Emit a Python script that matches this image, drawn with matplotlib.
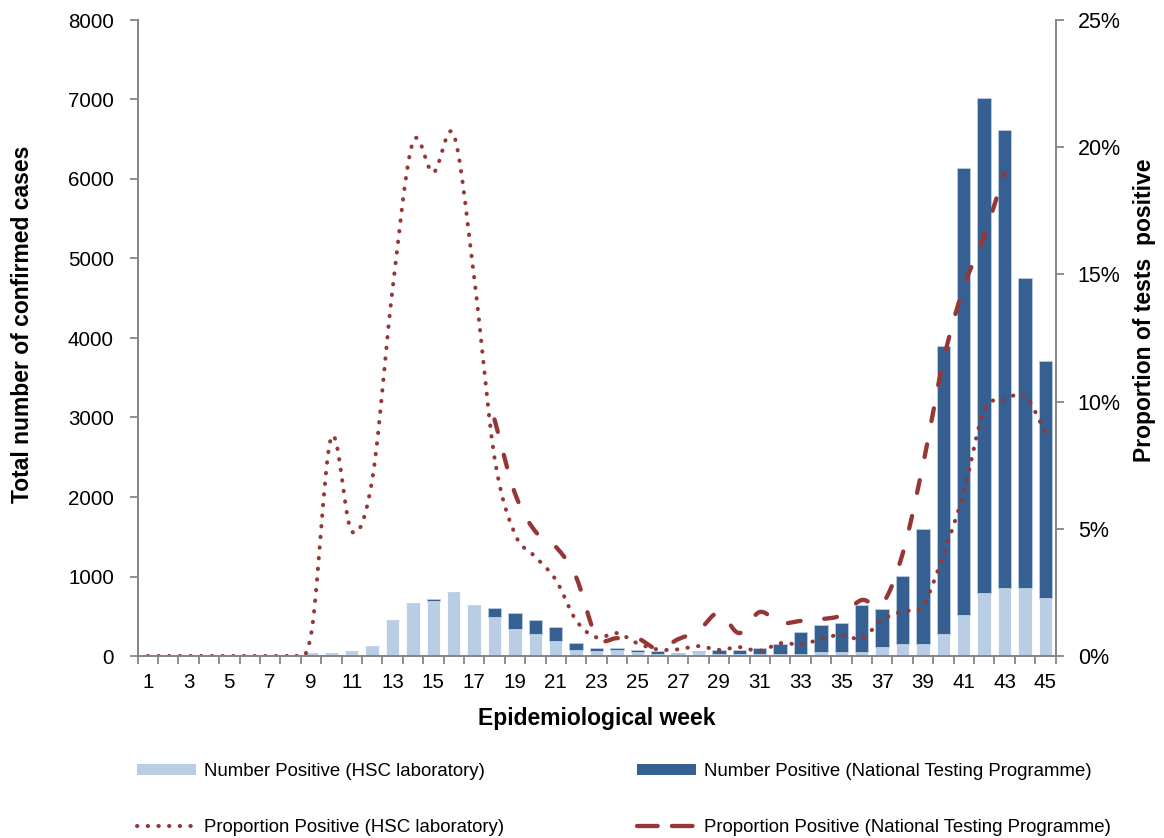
import numpy as np
import matplotlib
matplotlib.use('Agg')
import matplotlib.pyplot as plt
from matplotlib.lines import Line2D
from matplotlib.patches import Patch

plt.rcParams['font.family'] = ['Liberation Sans', 'DejaVu Sans']

# data
weeks = list(range(1, 46))
hsc_num = [0, 0, 0, 0, 0, 0, 0, 0, 35, 35, 60, 120, 450, 670, 690, 800, 645, 495,
           344, 277, 189, 80, 63, 80, 46, 30, 20, 45, 20, 25, 20, 25, 25, 50, 50,
           50, 117, 147, 147, 274, 510, 793, 855, 855, 725]
ntp_num = [0, 0, 0, 0, 0, 0, 0, 0, 0, 0, 0, 0, 0, 0, 23, 0, 0, 109,
           193, 176, 172, 84, 37, 20, 34, 29, 18, 18, 60, 55, 80, 131, 283, 346, 365,
           587, 475, 862, 1451, 3631, 5625, 6223, 5761, 3900, 2980]
hsc_prop = [0, 0, 0, 0, 0, 0, 0, 0.05, 0.8, 8.6, 4.9, 6.9, 14.4, 20.2, 19.0, 20.5,
            14.9, 7.8, 4.8, 3.9, 3.0, 1.4, 0.73, 0.9, 0.5, 0.26, 0.26, 0.39, 0.24,
            0.35, 0.2, 0.5, 0.46, 0.66, 0.84, 0.69, 1.42, 1.76, 1.99, 3.98, 6.43,
            9.65, 10.07, 10.23, 8.8]
ntp_weeks = list(range(18, 44))
ntp_prop = [9.3, 6.4, 4.9, 4.3, 3.1, 0.77, 0.7, 0.7, 0.28, 0.66, 1.0, 1.7, 0.9,
            1.73, 1.3, 1.38, 1.45, 1.6, 2.2, 2.05, 4.0, 7.5, 11.6, 14.5, 16.5, 19.0]

light = '#B9CDE5'
dark = '#376092'
red = '#953735'
grey = '#868686'
dotted = (0, (0.1, 2.55))
dashed = (0, (3.0, 5.5))


def smooth(x, y, n=16):
    # catmull-rom curve through the points, like Excel's smoothed line
    x = np.asarray(x, float)
    y = np.asarray(y, float)
    px = np.concatenate([[2 * x[0] - x[1]], x, [2 * x[-1] - x[-2]]])
    py = np.concatenate([[2 * y[0] - y[1]], y, [2 * y[-1] - y[-2]]])
    t = np.linspace(0, 1, n, endpoint=False)
    xs, ys = [], []
    for i in range(1, len(px) - 2):
        for p, out in ((px, xs), (py, ys)):
            p0, p1, p2, p3 = p[i - 1], p[i], p[i + 1], p[i + 2]
            out.extend(0.5 * (2 * p1 + (-p0 + p2) * t
                              + (2 * p0 - 5 * p1 + 4 * p2 - p3) * t ** 2
                              + (-p0 + 3 * p1 - 3 * p2 + p3) * t ** 3))
    xs.append(x[-1])
    ys.append(y[-1])
    return np.array(xs), np.array(ys)


fig = plt.figure(figsize=(11.64, 8.38), dpi=100)
ax = fig.add_axes([137.5 / 1164, 1 - 656 / 838, 918 / 1164, 636 / 838])

ax.bar(weeks, hsc_num, width=0.66, color=light, edgecolor='white', linewidth=0.6)
ax.bar(weeks, ntp_num, width=0.66, bottom=hsc_num, color=dark,
       edgecolor=light, linewidth=0.6)

ax.set_xlim(0.5, 45.5)
ax.set_ylim(0, 8000)
ax.set_yticks(range(0, 8001, 1000))
ax.set_xticks(np.arange(0.5, 46, 1))
ax.set_xticklabels([])
ax.set_xticks(weeks[::2], minor=True)
ax.set_xticklabels([str(w) for w in weeks[::2]], minor=True, fontsize=14.8)
ax.tick_params(axis='x', which='major', length=6, color=grey, width=1.3, direction='out')
ax.tick_params(axis='x', which='minor', length=0, pad=12)
ax.tick_params(axis='y', length=6, color=grey, width=1.3, labelsize=14.8, pad=11)

ax2 = ax.twinx()
ax2.set_ylim(0, 25)
ax2.set_yticks(range(0, 26, 5))
ax2.set_yticklabels(['%d%%' % v for v in range(0, 26, 5)])
ax2.tick_params(axis='y', length=6, color=grey, width=1.3, labelsize=15.5, pad=10)

sx, sy = smooth(weeks, hsc_prop)
ax2.plot(sx, np.clip(sy, 0, None), color=red, lw=2.9, linestyle=dotted,
         dash_capstyle='round')
nx, ny = smooth(ntp_weeks, ntp_prop)
ax2.plot(nx, ny, color=red, lw=3.1, linestyle=dashed, dash_capstyle='round')

for a in (ax, ax2):
    a.spines['top'].set_visible(False)
    for s in ('left', 'right', 'bottom'):
        a.spines[s].set_color(grey)
        a.spines[s].set_linewidth(1.3)

# axis titles
fig.text(22.5 / 1164, 1 - 324 / 838, 'Total number of confirmed cases', rotation=90,
         ha='center', va='center', fontsize=16.5, fontweight='bold')
fig.text(1144 / 1164, 1 - 310 / 838, 'Proportion of tests  positive', rotation=90,
         ha='center', va='center', fontsize=16.5, fontweight='bold')
fig.text(597 / 1164, 1 - 718 / 838, 'Epidemiological week',
         ha='center', va='center', fontsize=16.5, fontweight='bold')

handles = [Patch(facecolor=light, edgecolor='none'),
           Line2D([], [], color=red, lw=2.9, linestyle=dotted, dash_capstyle='round'),
           Patch(facecolor=dark, edgecolor='none'),
           Line2D([], [], color=red, lw=3.1, linestyle=(0, (4.8, 3.3)),
                  dash_capstyle='round')]
labels = ['Number Positive (HSC laboratory)',
          'Proportion Positive (HSC laboratory)',
          'Number Positive (National Testing Programme)',
          'Proportion Positive (National Testing Programme)']
fig.legend(handles, labels, ncol=2, loc='upper left', frameon=False,
           bbox_to_anchor=(137 / 1164, 1 - 763 / 838), fontsize=13.4,
           handlelength=3.17, handleheight=0.54, handletextpad=0.42,
           labelspacing=2.12, columnspacing=7.15, borderpad=0, borderaxespad=0)

fig.savefig('out.png', dpi=100)
